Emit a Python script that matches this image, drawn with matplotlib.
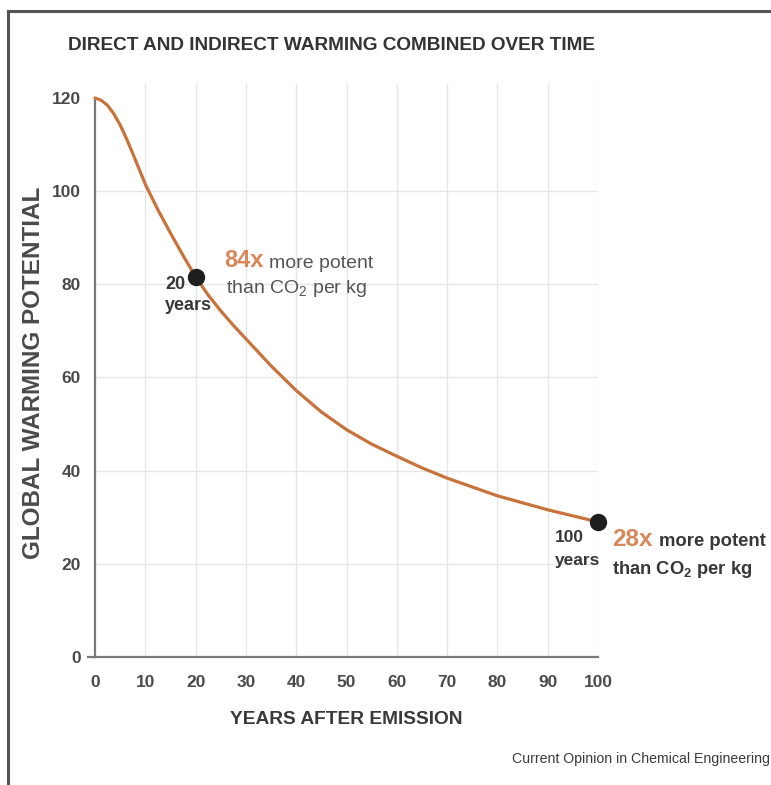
import matplotlib
matplotlib.use("Agg")
import matplotlib.pyplot as plt
from matplotlib.lines import Line2D

# ---- data ----
years = [0, 1.25, 2.5, 3.75, 5, 6.25, 7.5, 8.75, 10, 12.5, 15, 17.5, 20, 22.5, 25, 27.5, 30, 35, 40, 45,
         50, 55, 60, 65, 70, 80, 90, 100]
gwp = [120, 119.5, 118.4, 116.6, 114.2, 111.3, 108.1, 104.8, 101.5, 96, 91, 86.2, 81.6, 77.7, 74.3, 71.2,
       68.3, 62.5, 57.2, 52.6, 48.8, 45.7, 43.1, 40.6, 38.4, 34.6, 31.6, 29]
marker_years = [20, 100]
marker_gwp = [81.6, 29]
marker_factor = ["84x", "28x"]
x_ticks = [0, 10, 20, 30, 40, 50, 60, 70, 80, 90, 100]
y_ticks = [0, 20, 40, 60, 80, 100, 120]

FONT = ['Liberation Sans', 'DejaVu Sans']
plt.rcParams['font.family'] = FONT
plt.rcParams['mathtext.fontset'] = 'custom'
plt.rcParams['mathtext.rm'] = 'Liberation Sans'
plt.rcParams['mathtext.it'] = 'Liberation Sans:italic'
plt.rcParams['mathtext.bf'] = 'Liberation Sans:bold'

ORANGE_LINE = '#c8733b'
ORANGE_TXT = '#d8885a'
TXT = '#4a4a4a'
DARK = '#383838'

W, H = 771, 785
fig = plt.figure(figsize=(W / 100, H / 100), dpi=100)
fig.patch.set_facecolor('white')

def fx(px):
    return px / W

def fy(py):
    return 1 - py / H

ax_left, ax_right = fx(95), fx(598)
ax_bottom, ax_top = fy(657), fy(84)
ax = fig.add_axes([ax_left, ax_bottom, ax_right - ax_left, ax_top - ax_bottom])
ax.set_xlim(0, 100)
ax.set_ylim(0, 123)

ax.plot(years, gwp, color=ORANGE_LINE, lw=2.3, solid_capstyle='round', solid_joinstyle='round',
        clip_on=False, zorder=3)
ax.plot(marker_years, marker_gwp, 'o', color='#1e1e1e', ms=11.5, clip_on=False, zorder=4)

ax.set_xticks(x_ticks)
ax.set_yticks(y_ticks)
ax.set_xticklabels([str(t) for t in x_ticks])
ax.set_yticklabels([str(t) for t in y_ticks])
ax.grid(True, color='#e6e6e6', lw=1.0, zorder=0)
for t, gl in zip(y_ticks, ax.get_ygridlines()):
    if t in (0, 120):
        gl.set_visible(False)
for t, gl in zip(x_ticks, ax.get_xgridlines()):
    if t == 0:
        gl.set_visible(False)
ax.set_axisbelow(True)

for s in ['top', 'right']:
    ax.spines[s].set_visible(False)
for s in ['left', 'bottom']:
    ax.spines[s].set_color('#7a7a7a')
    ax.spines[s].set_linewidth(1.6)
ax.spines['left'].set_bounds(0, 120)
ax.spines['bottom'].set_bounds(0, 100)
ax.tick_params(axis='both', length=0, labelsize=12.5, labelcolor=TXT)
ax.tick_params(axis='x', pad=13)
ax.tick_params(axis='y', pad=10)
for lab in ax.get_xticklabels() + ax.get_yticklabels():
    lab.set_fontweight('bold')

# small tick at origin
ax.plot([-1.4, 0], [0, 0], color='#7a7a7a', lw=1.6, clip_on=False)

# titles and labels
fig.text(fx(331), fy(46), 'DIRECT AND INDIRECT WARMING COMBINED OVER TIME',
         ha='center', va='center', fontsize=13.7, fontweight='bold', color='#333333')
fig.text(fx(34), fy(373), 'GLOBAL WARMING POTENTIAL', rotation=90,
         ha='center', va='center', fontsize=17.5, fontweight='bold', color='#4a4a4a')
fig.text(fx(346), fy(719), 'YEARS AFTER EMISSION', ha='center', va='center',
         fontsize=13.8, fontweight='bold', color='#3a3a3a')
fig.text(fx(770), fy(759), 'Current Opinion in Chemical Engineering', ha='right', va='center',
         fontsize=10.2, color='#3a3a3a')

# annotations at 20 years
fig.text(fx(165), fy(285), '20', ha='left', va='center', fontsize=13, fontweight='bold', color=DARK)
fig.text(fx(165), fy(306), 'years', ha='left', va='center', fontsize=13, fontweight='bold', color=DARK)
fig.text(fx(224), fy(261), marker_factor[0], ha='left', va='center', fontsize=17, fontweight='bold', color=ORANGE_TXT)
fig.text(fx(269), fy(264), 'more potent', ha='left', va='center', fontsize=14, color='#555555')
fig.text(fx(226), fy(289), 'than CO$_2$ per kg', ha='left', va='center', fontsize=14, color='#555555')

# annotations at 100 years
fig.text(fx(555), fy(538), '100', ha='left', va='center', fontsize=12.5, fontweight='bold', color=DARK)
fig.text(fx(555), fy(560), 'years', ha='left', va='center', fontsize=12.5, fontweight='bold', color=DARK)
fig.text(fx(612), fy(539), marker_factor[1], ha='left', va='center', fontsize=17.5, fontweight='bold', color=ORANGE_TXT)
fig.text(fx(659), fy(541), 'more potent', ha='left', va='center', fontsize=13.3, fontweight='bold', color=DARK)
fig.text(fx(612), fy(570), r'than CO$_\mathbf{2}$ per kg', ha='left', va='center', fontsize=13.2,
         fontweight='bold', color=DARK)

# frame lines (top and left)
fig.add_artist(Line2D([fx(8), 1.0], [fy(11), fy(11)], color='#555555', lw=2.2))
fig.add_artist(Line2D([fx(8), fx(8)], [fy(11), 0.0], color='#555555', lw=2.2))

fig.savefig('out.png', dpi=100, facecolor='white')
